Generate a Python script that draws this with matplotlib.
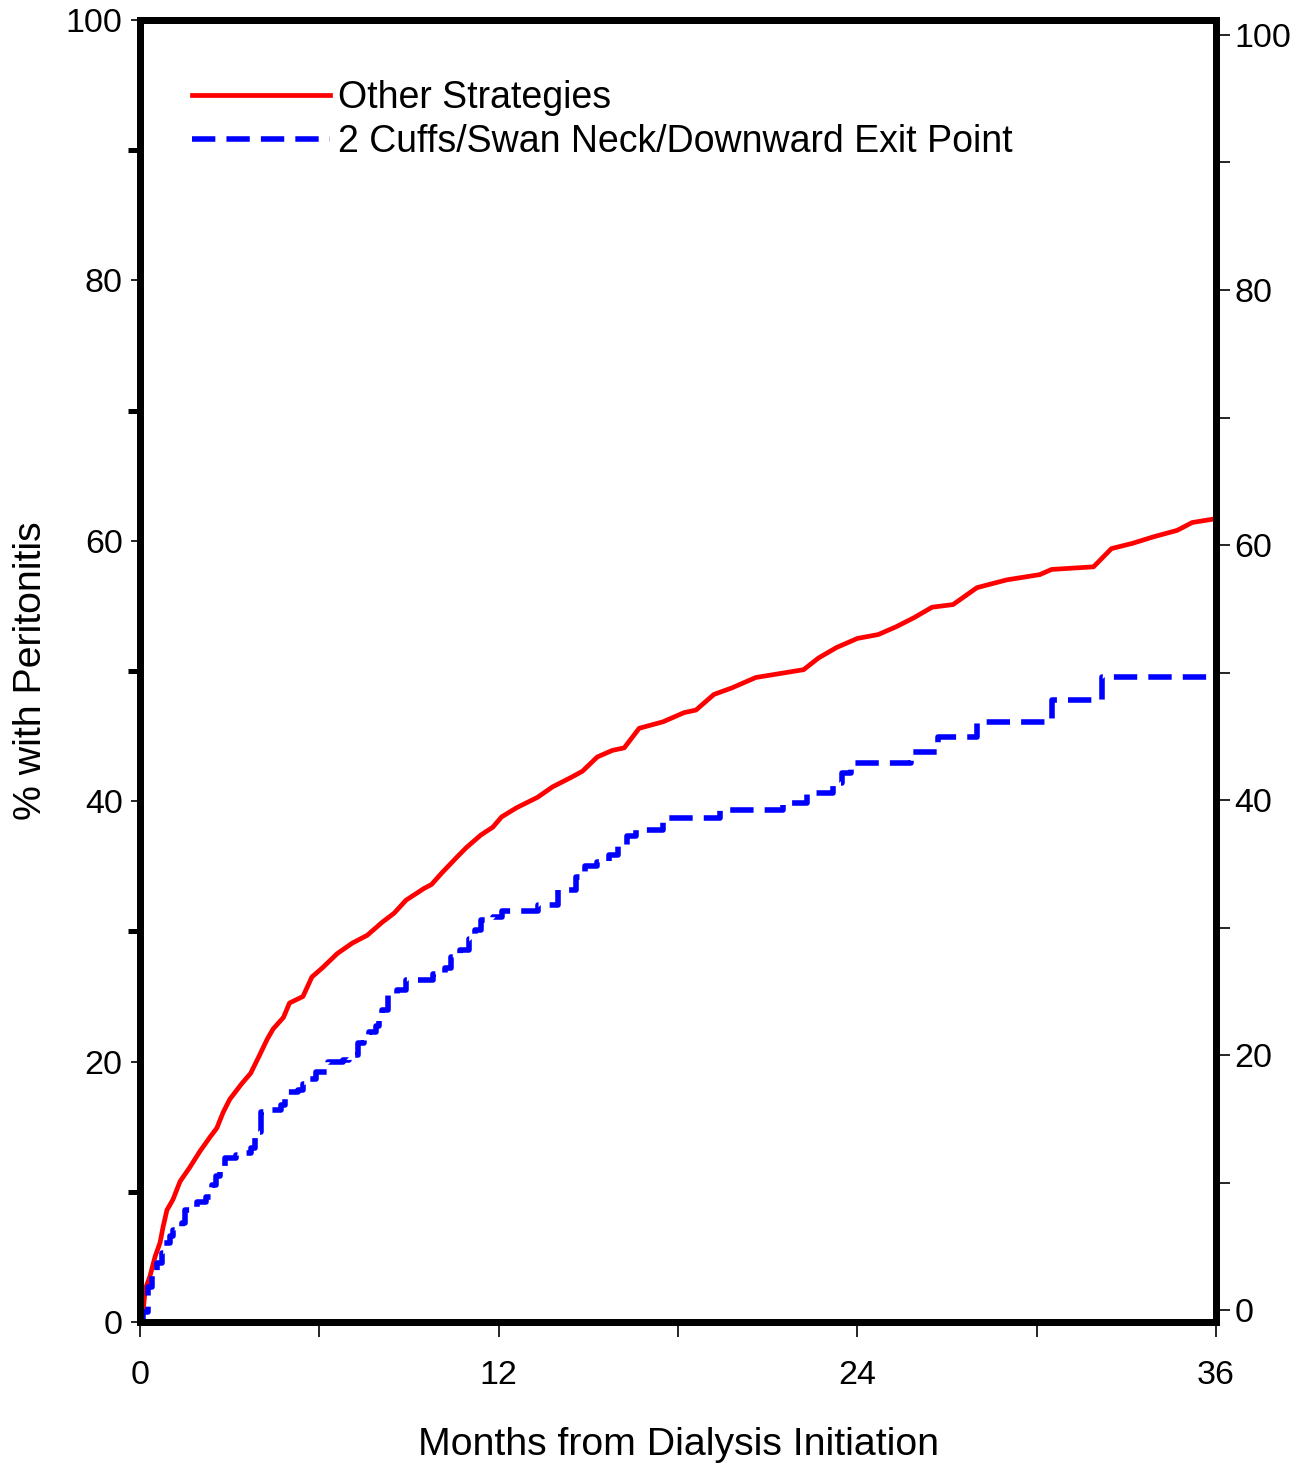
import numpy as np
import matplotlib
matplotlib.use('Agg')
import matplotlib.pyplot as plt
from matplotlib.ticker import MultipleLocator

plt.rcParams['font.family'] = ['Liberation Sans', 'DejaVu Sans']

# Cumulative % with peritonitis (months, %)
other_months = [0, 0.1, 0.17, 0.33, 0.5, 0.67, 0.77, 0.9, 1.1, 1.34, 1.67, 2.0, 2.34,
                2.57, 2.78, 3.0, 3.4, 3.7, 4.0, 4.25, 4.45, 4.8, 5.0, 5.45, 5.75, 6.1,
                6.6, 7.1, 7.6, 8.1, 8.5, 8.9, 9.5, 9.75, 10.1, 10.6, 10.9, 11.4, 11.8,
                12.1, 12.6, 13.3, 13.8, 14.4, 14.8, 15.3, 15.8, 16.2, 16.7, 17.5, 18.2,
                18.6, 19.2, 19.8, 20.6, 21.4, 22.2, 22.7, 23.3, 24.0, 24.7, 25.3, 25.9,
                26.5, 27.2, 28.0, 29.0, 30.1, 30.5, 31.9, 32.5, 33.2, 33.9, 34.7, 35.2, 36.0]
other_pct = [0, 0.7, 2.5, 3.5, 5.0, 6.1, 7.3, 8.6, 9.4, 10.8, 11.9, 13.1, 14.2,
             14.9, 16.1, 17.1, 18.3, 19.1, 20.5, 21.7, 22.5, 23.4, 24.5, 25.0, 26.5, 27.2,
             28.3, 29.1, 29.7, 30.7, 31.4, 32.4, 33.3, 33.6, 34.5, 35.7, 36.4, 37.4, 38.0,
             38.8, 39.5, 40.3, 41.1, 41.8, 42.3, 43.4, 43.9, 44.1, 45.6, 46.1, 46.8,
             47.0, 48.2, 48.7, 49.5, 49.8, 50.1, 51.0, 51.8, 52.5, 52.8, 53.4, 54.1,
             54.9, 55.1, 56.4, 57.0, 57.4, 57.8, 58.0, 59.4, 59.8, 60.3, 60.8, 61.4, 61.7]

swan_months = [0, 0.1, 0.27, 0.4, 0.57, 0.73, 0.8, 1.0, 1.1, 1.4, 1.5, 1.9, 2.2, 2.4,
               2.55, 2.68, 2.85, 3.2, 3.4, 3.7, 3.85, 4.05, 4.3, 4.7, 4.85, 4.95, 5.3,
               5.45, 5.6, 5.9, 6.3, 6.8, 7.0, 7.3, 7.5, 7.65, 7.9, 8.0, 8.1, 8.3, 8.6,
               8.9, 9.8, 10.2, 10.4, 10.7, 11.0, 11.2, 11.4, 11.8, 12.1, 13.3, 14.0,
               14.6, 14.9, 15.3, 15.7, 16.0, 16.3, 16.6, 17.5, 19.4, 21.5, 22.3, 23.2,
               23.5, 23.8, 25.8, 26.7, 28.0, 30.5, 32.2, 35.8]
swan_pct = [0, 0.8, 2.7, 3.5, 4.5, 5.3, 6.1, 6.6, 7.1, 7.6, 8.6, 9.2, 9.6, 10.5,
            11.2, 11.7, 12.6, 12.8, 13.0, 13.4, 14.6, 16.1, 16.3, 16.7, 17.3, 17.7, 17.8,
            18.3, 18.7, 19.2, 20.0, 20.1, 20.5, 21.4, 22.0, 22.3, 22.7, 23.5, 24.0, 25.2,
            25.5, 26.3, 26.7, 27.2, 28.0, 28.6, 29.4, 30.1, 30.9, 31.1, 31.6, 32.0, 33.2,
            34.2, 35.0, 35.3, 35.9, 36.6, 37.3, 37.8, 38.7, 39.3, 39.9, 40.6, 41.4,
            42.2, 42.9, 43.8, 44.9, 46.1, 47.8, 49.5, 49.5]

x_ticks = [0, 12, 24, 36]
y_ticks = [0, 20, 40, 60, 80, 100]

fig = plt.figure(figsize=(13.1, 14.66), dpi=100)
ax = fig.add_axes([0.1069, 0.0982, 0.8214, 0.8882])

# red curve has many tiny steps, a plain line looks closest
ax.plot(other_months, other_pct, color='red', lw=3.4,
        label='Other Strategies')
ax.plot(swan_months, swan_pct, color='blue', lw=4.0, drawstyle='steps-post',
        dashes=(4.2, 2.0), dash_capstyle='butt',
        label='2 Cuffs/Swan Neck/Downward Exit Point')

ax.set_xlim(0, 36)
ax.set_ylim(0, 100)
for s in ax.spines.values():
    s.set_linewidth(5)

ax.set_xticks(x_ticks)
ax.xaxis.set_minor_locator(MultipleLocator(6))
ax.tick_params(axis='x', which='both', direction='out', length=11, width=1.2,
               labelsize=24.5, pad=16)
ax.set_yticks(y_ticks)
ax.yaxis.set_minor_locator(MultipleLocator(10))
ax.tick_params(axis='y', which='major', direction='out', length=6.5, width=1.2,
               labelsize=24.5, pad=6)
ax.tick_params(axis='y', which='minor', direction='out', length=9, width=3.6)

ax.set_xlabel('Months from Dialysis Initiation', fontsize=28.3, labelpad=26)
ax.set_ylabel('% with Peritonitis', fontsize=28.3, labelpad=12)

# right axis has its own slightly offset scale
ax2 = ax.twinx()
ax2.set_ylim(-0.94, 101.18)
ax2.set_yticks(y_ticks)
ax2.yaxis.set_minor_locator(MultipleLocator(10))
ax2.tick_params(axis='y', which='both', direction='out', length=10, width=1.2,
                labelsize=24.5, pad=3)
for s in ax2.spines.values():
    s.set_linewidth(5)

ax.legend(loc='upper left', bbox_to_anchor=(0.048, 0.954), frameon=False,
          fontsize=27, handlelength=3.68, handletextpad=0.21, labelspacing=0.22,
          borderpad=0, borderaxespad=0)

fig.savefig('out.png', dpi=100)
